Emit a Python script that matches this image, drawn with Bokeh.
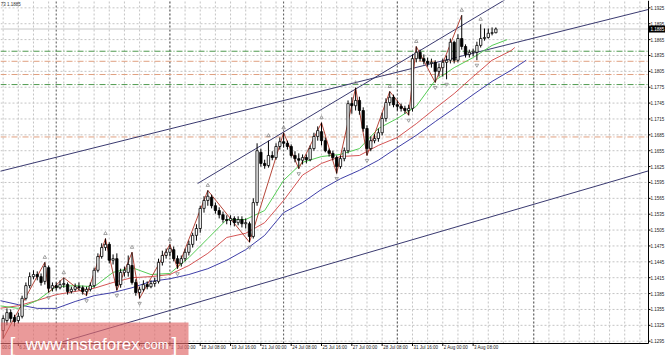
from bokeh.plotting import figure
from bokeh.models import ColumnDataSource, Range1d
from bokeh.core.properties import value
from bokeh.embed import file_html
from bokeh.resources import INLINE

# ---------------- data (EURUSD H4, index 0 = 3 Jul 00:00) ----------------
candle_index = list(range(16, 147))
opens = [1.1315, 1.1334, 1.1349, 1.1340, 1.1334, 1.1342, 1.1376, 1.1400, 1.1417, 1.1421,
         1.1417, 1.1408, 1.1434, 1.1395, 1.1400, 1.1396, 1.1402, 1.1402, 1.1389, 1.1393,
         1.1398, 1.1396, 1.1389, 1.1393, 1.1400, 1.1429, 1.1455, 1.1472, 1.1478, 1.1448,
         1.1451, 1.1402, 1.1425, 1.1425, 1.1438, 1.1406, 1.1387, 1.1393, 1.1402, 1.1398,
         1.1404, 1.1408, 1.1444, 1.1457, 1.1463, 1.1468, 1.1451, 1.1442, 1.1451, 1.1463,
         1.1478, 1.1495, 1.1508, 1.1546, 1.1561, 1.1567, 1.1551, 1.1542, 1.1534, 1.1525,
         1.1523, 1.1527, 1.1519, 1.1525, 1.1517, 1.1517, 1.1493, 1.1557, 1.1652, 1.1631,
         1.1627, 1.1646, 1.1642, 1.1663, 1.1672, 1.1669, 1.1663, 1.1646, 1.1640, 1.1637,
         1.1642, 1.1638, 1.1659, 1.1682, 1.1691, 1.1674, 1.1655, 1.1650, 1.1642, 1.1625,
         1.1640, 1.1655, 1.1744, 1.1740, 1.1750, 1.1731, 1.1697, 1.1659, 1.1674, 1.1678,
         1.1689, 1.1716, 1.1746, 1.1756, 1.1742, 1.1739, 1.1735, 1.1731, 1.1735, 1.1829,
         1.1841, 1.1829, 1.1824, 1.1820, 1.1822, 1.1805, 1.1812, 1.1822, 1.1826, 1.1860,
         1.1826, 1.1867, 1.1852, 1.1837, 1.1841, 1.1841, 1.1854, 1.1867, 1.1869, 1.1877,
         1.1878]
highs = [1.1344, 1.1357, 1.1355, 1.1345, 1.1349, 1.1381, 1.1406, 1.1425, 1.1429, 1.1427,
         1.1423, 1.1444, 1.1438, 1.1406, 1.1406, 1.1410, 1.1415, 1.1406, 1.1398, 1.1404,
         1.1406, 1.1400, 1.1398, 1.1406, 1.1434, 1.1461, 1.1480, 1.1489, 1.1482, 1.1459,
         1.1461, 1.1432, 1.1436, 1.1457, 1.1463, 1.1412, 1.1398, 1.1410, 1.1408, 1.1410,
         1.1415, 1.1451, 1.1466, 1.1470, 1.1478, 1.1474, 1.1457, 1.1457, 1.1470, 1.1485,
         1.1500, 1.1516, 1.1551, 1.1569, 1.1580, 1.1572, 1.1557, 1.1548, 1.1540, 1.1533,
         1.1533, 1.1531, 1.1531, 1.1531, 1.1527, 1.1521, 1.1565, 1.1669, 1.1659, 1.1638,
         1.1674, 1.1654, 1.1669, 1.1680, 1.1689, 1.1674, 1.1667, 1.1654, 1.1650, 1.1648,
         1.1648, 1.1665, 1.1689, 1.1701, 1.1708, 1.1680, 1.1659, 1.1655, 1.1646, 1.1646,
         1.1661, 1.1750, 1.1756, 1.1774, 1.1757, 1.1737, 1.1703, 1.1682, 1.1686, 1.1697,
         1.1727, 1.1754, 1.1767, 1.1761, 1.1750, 1.1744, 1.1740, 1.1742, 1.1837, 1.1852,
         1.1846, 1.1837, 1.1831, 1.1829, 1.1826, 1.1820, 1.1829, 1.1835, 1.1867, 1.1863,
         1.1875, 1.1911, 1.1856, 1.1846, 1.1848, 1.1861, 1.1894, 1.1886, 1.1886, 1.1888,
         1.1888]
lows = [1.1300, 1.1325, 1.1330, 1.1323, 1.1328, 1.1338, 1.1372, 1.1395, 1.1412, 1.1410,
        1.1400, 1.1402, 1.1387, 1.1389, 1.1391, 1.1393, 1.1396, 1.1383, 1.1385, 1.1389,
        1.1391, 1.1383, 1.1381, 1.1389, 1.1396, 1.1425, 1.1451, 1.1466, 1.1442, 1.1440,
        1.1391, 1.1396, 1.1417, 1.1417, 1.1402, 1.1381, 1.1376, 1.1389, 1.1393, 1.1395,
        1.1398, 1.1404, 1.1438, 1.1451, 1.1455, 1.1446, 1.1432, 1.1436, 1.1446, 1.1457,
        1.1472, 1.1485, 1.1500, 1.1538, 1.1551, 1.1546, 1.1536, 1.1527, 1.1519, 1.1516,
        1.1514, 1.1512, 1.1514, 1.1510, 1.1508, 1.1482, 1.1489, 1.1551, 1.1625, 1.1621,
        1.1623, 1.1637, 1.1638, 1.1657, 1.1661, 1.1657, 1.1642, 1.1633, 1.1621, 1.1629,
        1.1631, 1.1635, 1.1655, 1.1674, 1.1665, 1.1652, 1.1644, 1.1637, 1.1612, 1.1621,
        1.1635, 1.1650, 1.1725, 1.1731, 1.1723, 1.1691, 1.1646, 1.1654, 1.1669, 1.1672,
        1.1684, 1.1710, 1.1740, 1.1737, 1.1731, 1.1729, 1.1725, 1.1722, 1.1729, 1.1822,
        1.1824, 1.1818, 1.1814, 1.1812, 1.1784, 1.1795, 1.1795, 1.1790, 1.1820, 1.1820,
        1.1822, 1.1846, 1.1831, 1.1831, 1.1833, 1.1826, 1.1850, 1.1863, 1.1867, 1.1873,
        1.1877]
closes = [1.1338, 1.1349, 1.1338, 1.1332, 1.1342, 1.1376, 1.1400, 1.1417, 1.1421, 1.1417,
          1.1406, 1.1436, 1.1395, 1.1400, 1.1396, 1.1402, 1.1404, 1.1389, 1.1393, 1.1398,
          1.1396, 1.1389, 1.1393, 1.1400, 1.1429, 1.1455, 1.1472, 1.1478, 1.1448, 1.1451,
          1.1400, 1.1425, 1.1429, 1.1440, 1.1406, 1.1387, 1.1393, 1.1402, 1.1398, 1.1404,
          1.1408, 1.1444, 1.1457, 1.1463, 1.1470, 1.1451, 1.1442, 1.1451, 1.1463, 1.1478,
          1.1495, 1.1508, 1.1546, 1.1561, 1.1569, 1.1551, 1.1542, 1.1534, 1.1525, 1.1523,
          1.1527, 1.1519, 1.1525, 1.1517, 1.1519, 1.1493, 1.1557, 1.1655, 1.1631, 1.1627,
          1.1646, 1.1642, 1.1663, 1.1672, 1.1669, 1.1663, 1.1646, 1.1640, 1.1637, 1.1642,
          1.1638, 1.1659, 1.1682, 1.1693, 1.1674, 1.1655, 1.1650, 1.1642, 1.1625, 1.1640,
          1.1655, 1.1744, 1.1740, 1.1750, 1.1731, 1.1697, 1.1659, 1.1674, 1.1678, 1.1689,
          1.1716, 1.1746, 1.1756, 1.1742, 1.1739, 1.1735, 1.1731, 1.1735, 1.1829, 1.1841,
          1.1829, 1.1824, 1.1820, 1.1822, 1.1805, 1.1812, 1.1822, 1.1826, 1.1860, 1.1826,
          1.1867, 1.1852, 1.1837, 1.1841, 1.1843, 1.1854, 1.1867, 1.1869, 1.1877, 1.1878,
          1.1885]

# Alligator lines
jaw_index = [15, 20, 25, 30, 35, 40, 45, 50, 55, 60, 65, 70, 75, 80, 85, 90, 95, 100,
             105, 110, 115, 120, 125, 130, 135, 140, 145, 150, 154]
jaw = [1.1372, 1.1364, 1.1357, 1.1357, 1.1370, 1.1381, 1.1387, 1.1396, 1.1408, 1.1413,
       1.1421, 1.1432, 1.1448, 1.1468, 1.1495, 1.1538, 1.1557, 1.1582, 1.1602, 1.1618,
       1.1637, 1.1661, 1.1684, 1.1710, 1.1735, 1.1761, 1.1786, 1.1807, 1.1826]
teeth_index = [15, 20, 25, 30, 35, 40, 45, 50, 55, 60, 65, 70, 75, 80, 85, 90, 95, 100,
               105, 110, 115, 120, 125, 130, 135, 140, 145, 150, 151]
teeth = [1.1357, 1.1362, 1.1372, 1.1383, 1.1389, 1.1395, 1.1406, 1.1415, 1.1417, 1.1421,
         1.1438, 1.1461, 1.1491, 1.1499, 1.1519, 1.1561, 1.1609, 1.1631, 1.1644, 1.1646,
         1.1665, 1.1680, 1.1706, 1.1735, 1.1763, 1.1795, 1.1826, 1.1844, 1.1850]
lips_index = [15, 20, 25, 30, 35, 40, 45, 50, 55, 60, 65, 70, 75, 80, 85, 90, 95, 100,
              105, 110, 115, 120, 125, 130, 135, 140, 145, 149]
lips = [1.1362, 1.1357, 1.1372, 1.1398, 1.1400, 1.1398, 1.1425, 1.1434, 1.1421, 1.1423,
        1.1453, 1.1489, 1.1525, 1.1525, 1.1542, 1.1599, 1.1633, 1.1644, 1.1648, 1.1659,
        1.1697, 1.1716, 1.1739, 1.1788, 1.1812, 1.1831, 1.1854, 1.1865]

zigzag_index = [16, 27, 28, 32, 38, 43, 46, 50, 52, 60, 62, 70, 81, 90, 94, 100, 104,
                109, 112, 118, 123, 125, 130, 137]
zigzag_price = [1.1300, 1.1444, 1.1387, 1.1415, 1.1381, 1.1489, 1.1391, 1.1463, 1.1376,
                1.1478, 1.1432, 1.1580, 1.1482, 1.1689, 1.1621, 1.1708, 1.1612, 1.1774,
                1.1646, 1.1767, 1.1722, 1.1852, 1.1784, 1.1911]

fractal_up_index = [27, 32, 43, 50, 60, 70, 86, 90, 100, 109, 118, 125, 137, 142]
fractal_down_index = [28, 38, 46, 52, 62, 81, 94, 104, 112, 123, 130, 133, 141]

green_levels = [1.1843, 1.1780]
orange_levels = [1.1824, 1.1799, 1.1681]

trend_long_index = [14, 186.3]
trend_long_price = [1.1614, 1.1922]
trend_upper_index = [67.3, 160]
trend_upper_price = [1.1593, 1.1990]
trend_lower_index = [30.3, 186.3]
trend_lower_price = [1.1291, 1.1617]

last_price = 1.1885
price_ticks = [1.1295, 1.1325, 1.1355, 1.1385, 1.1415, 1.1445, 1.1475, 1.1505, 1.1535,
               1.1565, 1.1595, 1.1625, 1.1655, 1.1685, 1.1715, 1.1745, 1.1775, 1.1805,
               1.1835, 1.1865, 1.1895, 1.1925]
price_labels = ["1.1295", "1.1325", "1.1355", "1.1385", "1.1415", "1.1445", "1.1475",
                "1.1505", "1.1535", "1.1565", "1.1595", "1.1625", "1.1655", "1.1685",
                "1.1715", "1.1745", "1.1775", "1.1805", "1.1835", "1.1865", "1.1895",
                "1.1925"]
time_label_index = [15.45, 20, 28, 36, 44, 52, 60, 68, 76, 84, 92, 100, 108, 116, 124, 132, 140]
time_labels = ["00:00", "6 Jul 08:00", "7 Jul 16:00", "11 Jul 00:00", "12 Jul 08:00",
               "13 Jul 16:00", "17 Jul 00:00", "18 Jul 08:00", "19 Jul 16:00", "21 Jul 00:00",
               "24 Jul 08:00", "25 Jul 16:00", "27 Jul 00:00", "28 Jul 08:00", "31 Jul 16:00",
               "2 Aug 00:00", "3 Aug 08:00"]
separator_index = [30, 60, 90, 120, 156]
header_text = "73 1.1885"

# ---------------- geometry (frame = whole 665x355 canvas, MT4 layout drawn inside) ----------------
PX_PER_BAR = 3.79
X0 = 15.30
W = 665
H = 355
PPX = 0.000189          # price per pixel
Y_TOP = 1.19389
Y_BOT = Y_TOP - PPX * H
X1 = X0 + W / PX_PER_BAR


def py(px):
    return Y_TOP - PPX * px


def ix(px):
    return X0 + px / PX_PER_BAR


AXIS_Y = py(343)
AXIS_X = ix(648)

p = figure(width=W, height=H, output_backend="svg", toolbar_location=None,
           x_range=Range1d(X0, X1), y_range=Range1d(Y_BOT, Y_TOP),
           x_axis_location=None, y_axis_location=None,
           min_border_left=0, min_border_right=0, min_border_top=0, min_border_bottom=0)
p.outline_line_color = None
p.background_fill_color = "white"
p.border_fill_color = "white"
p.grid.visible = False

LABEL_FONT = value("Liberation Sans")

# horizontal grid
n = len(price_ticks)
p.segment(x0=[X0] * n, y0=price_ticks, x1=[AXIS_X] * n, y1=price_ticks,
          line_color="#c4c4c4", line_dash="2 2", line_width=1)
# vertical grid every 4 bars
vgrid = list(range(16, 187, 4))
p.segment(x0=vgrid, y0=[AXIS_Y] * len(vgrid), x1=vgrid, y1=[Y_TOP] * len(vgrid),
          line_color="#c4c4c4", line_dash="2 2", line_width=1)
# weekly separators
p.segment(x0=separator_index, y0=[AXIS_Y] * len(separator_index), x1=separator_index,
          y1=[Y_TOP] * len(separator_index), line_color="#555555", line_dash="2 2", line_width=1)

# horizontal levels
for lv in green_levels:
    p.line([X0, AXIS_X], [lv, lv], line_color="#4f9a4f", line_dash="6 2 1 2", line_width=1)
for lv in orange_levels:
    p.line([X0, AXIS_X], [lv, lv], line_color="#e0a080", line_dash="6 2 1 2", line_width=1)
# bid line
p.line([X0, AXIS_X], [last_price, last_price], line_color="#c8c8c8", line_width=1)

# trend lines
p.line(trend_long_index, trend_long_price, line_color="#3a3a70", line_width=1)
p.line(trend_upper_index, trend_upper_price, line_color="#3a3a70", line_width=1)
p.line(trend_lower_index, trend_lower_price, line_color="#3a3a70", line_width=1)

# alligator
p.line(jaw_index, jaw, line_color="#3f3fa8", line_width=1)
p.line(teeth_index, teeth, line_color="#d45555", line_width=1)
p.line(lips_index, lips, line_color="#55cc55", line_width=1)

# zigzag
p.line(zigzag_index, zigzag_price, line_color="#b5473a", line_width=1)

# candles
up = dict(x=[], top=[], bottom=[], high=[], low=[])
dn = dict(x=[], top=[], bottom=[], high=[], low=[])
for i, o, h, l, c in zip(candle_index, opens, highs, lows, closes):
    d = up if c >= o else dn
    d["x"].append(i)
    d["top"].append(max(o, c))
    d["bottom"].append(min(o, c))
    d["high"].append(h)
    d["low"].append(l)
src_up = ColumnDataSource(up)
src_dn = ColumnDataSource(dn)
for s in (src_up, src_dn):
    p.segment(x0="x", y0="low", x1="x", y1="high", source=s, line_color="black", line_width=1)
p.vbar(x="x", top="top", bottom="bottom", width=0.62, source=src_up,
       fill_color="white", line_color="black", line_width=0.8)
p.vbar(x="x", top="top", bottom="bottom", width=0.62, source=src_dn,
       fill_color="black", line_color="black", line_width=0.8)

# fractals
hi_map = dict(zip(candle_index, highs))
lo_map = dict(zip(candle_index, lows))
p.scatter(x=fractal_up_index, y=[hi_map[i] + 5 * PPX for i in fractal_up_index],
          marker="triangle", size=3.5, fill_color=None, line_color="#8c8c8c", line_width=0.8)
p.scatter(x=fractal_down_index, y=[lo_map[i] - 5 * PPX for i in fractal_down_index],
          marker="inverted_triangle", size=3.5, fill_color=None, line_color="#8c8c8c", line_width=0.8)

# bottom time axis (MT4 style, labels left-aligned at tick)
p.segment(x0=[X0], y0=[AXIS_Y], x1=[AXIS_X], y1=[AXIS_Y], line_color="black", line_width=1)
tick_idx = time_label_index[1:]
p.segment(x0=tick_idx, y0=[AXIS_Y] * len(tick_idx), x1=tick_idx,
          y1=[py(345.5)] * len(tick_idx), line_color="black", line_width=1)
p.text(x=time_label_index, y=[py(344.5)] * len(time_label_index), text=time_labels,
       text_font=LABEL_FONT, text_font_size="4.5px", text_color="#222222",
       text_align="left", text_baseline="top", x_offset=1)

# right price axis
p.segment(x0=[AXIS_X], y0=[AXIS_Y], x1=[AXIS_X], y1=[Y_TOP], line_color="black", line_width=1)
p.segment(x0=[AXIS_X] * n, y0=price_ticks, x1=[ix(650)] * n, y1=price_ticks,
          line_color="black", line_width=1)
p.text(x=[ix(650)] * n, y=price_ticks, text=price_labels, text_font=LABEL_FONT,
       text_font_size="4.5px", text_color="#222222", text_align="left", text_baseline="middle")
# current price tag
p.quad(left=[AXIS_X], right=[X1], top=[last_price + 3.5 * PPX], bottom=[last_price - 3.5 * PPX],
       fill_color="black", line_color=None)
p.text(x=[ix(650)], y=[last_price], text=["1.1885"], text_font=LABEL_FONT,
       text_font_size="4.5px", text_color="white", text_align="left", text_baseline="middle")

# header
p.text(x=[X0 + 0.05], y=[py(1.5)], text=[header_text], text_font=LABEL_FONT,
       text_font_size="4.5px", text_color="#333333", text_align="left", text_baseline="top")

# watermark
p.quad(left=[X0], right=[ix(188)], top=[py(322)], bottom=[Y_BOT],
       fill_color="#e06a6a", fill_alpha=0.68, line_color=None)
wm_y = py(344)
p.text(x=[ix(9)], y=[wm_y], text=["["], text_font=LABEL_FONT,
       text_font_size="21px", text_color="white", text_baseline="alphabetic")
p.text(x=[ix(25)], y=[wm_y], text=["www.instaforex"], text_font=LABEL_FONT,
       text_font_size="17px", text_color="white", text_baseline="alphabetic")
p.text(x=[ix(140)], y=[wm_y], text=[".com"], text_font=LABEL_FONT,
       text_font_size="13px", text_color="white", text_baseline="alphabetic")
p.text(x=[ix(171)], y=[wm_y], text=["]"], text_font=LABEL_FONT,
       text_font_size="21px", text_color="white", text_baseline="alphabetic")

open("out.html", "w").write(file_html(p, INLINE))
